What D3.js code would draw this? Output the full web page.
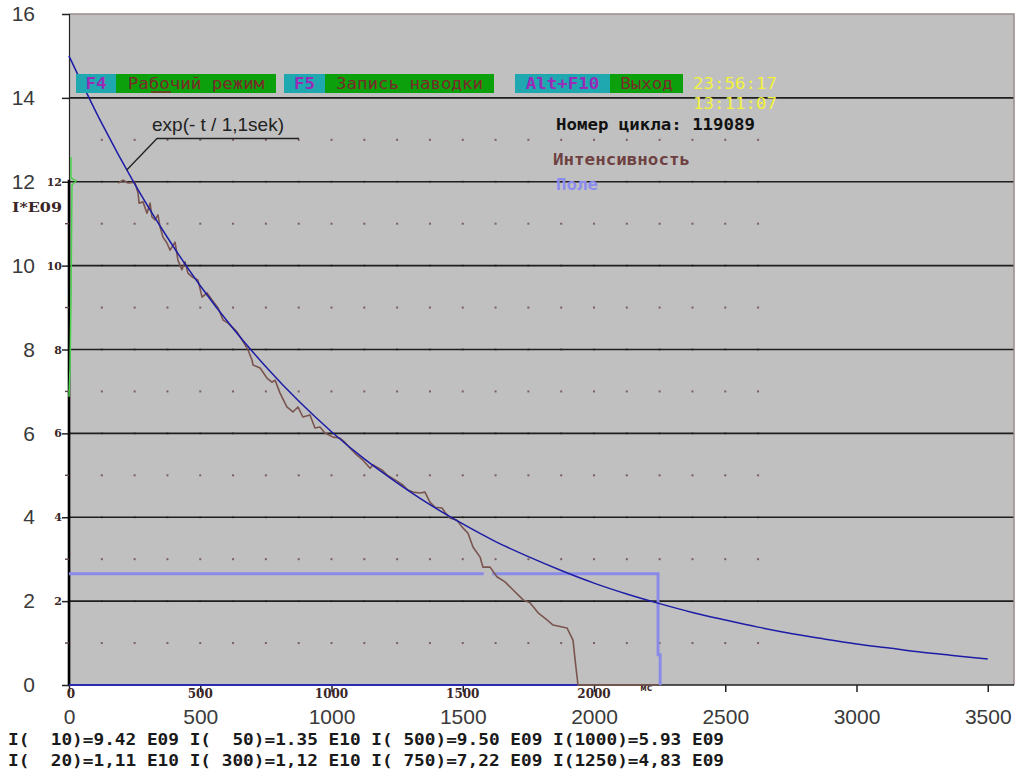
<!DOCTYPE html>
<html>
<head>
<meta charset="utf-8">
<script src="https://cdn.jsdelivr.net/npm/d3@7"></script>
<style>
body{margin:0;background:#fff}
svg{display:block}
</style>
</head>
<body>
<svg id="chart" width="1017" height="769"></svg>
<script>

var xTicks = [0,500,1000,1500,2000,2500,3000,3500];
var yTicks = [0,2,4,6,8,10,12,14,16];
var innerXTicks = [0,500,1000,1500,2000];
var innerYTicks = [2,4,6,8,10,12];
var gridValues = [2,4,6,8,10,12,14];

// exp(-t/1,1sek) fit
var fitT = [0,125,250,375,500,625,750,875,1000,1125,1250,1375,1500,1625,1750,1875,2000,2125,2250,2375,2500,2625,2750,2875,3000,3125,3250,3375,3500];
var fitI = [15.00,13.39,11.95,10.67,9.52,8.50,7.59,6.77,6.04,5.39,4.82,4.30,3.84,3.42,3.06,2.73,2.43,2.17,1.94,1.73,1.55,1.38,1.23,1.10,0.98,0.88,0.78,0.70,0.62];

// Интенсивность (brown)
var intT = [187,206,225,251,263,267,282,297,309,316,328,339,347,358,373,385,404,415,430,442,453,469,491,507,526,545,568,587,606,621,640,659,682,697,701,728,754,773,785,804,830,853,872,891,918,937,956,975,1006,1032,1051,1070,1097,1120,1147,1158,1192,1211,1242,1272,1291,1310,1337,1356,1375,1394,1421,1432,1451,1478,1497,1520,1539,1566,1577,1604,1630,1661,1691,1730,1756,1787,1821,1844,1897,1920,1928,1939,2244];
var intI = [11.97,12.04,11.97,11.99,11.73,11.49,11.52,11.25,11.49,11.16,11.09,11.21,10.92,10.68,10.54,10.37,10.56,10.13,9.90,10.09,9.82,9.73,9.66,9.25,9.35,9.18,8.99,8.70,8.63,8.54,8.42,8.23,7.99,7.75,7.63,7.56,7.32,7.22,7.27,6.96,6.63,6.51,6.63,6.39,6.44,6.13,6.15,6.01,5.91,5.89,5.79,5.65,5.48,5.36,5.17,5.25,5.13,5.01,4.89,4.77,4.65,4.60,4.58,4.60,4.36,4.24,4.22,4.12,3.98,3.93,3.77,3.62,3.29,3.05,2.81,2.81,2.58,2.46,2.27,2.03,1.96,1.72,1.55,1.43,1.36,1.07,0.60,0.00,0.00];

// Поле (light blue), two pieces
var fieldT1 = [0,1580];
var fieldI1 = [2.65,2.65];
var fieldT2 = [1612,2244,2244,2252,2252];
var fieldI2 = [2.65,2.65,0.72,0.72,0];

// green trace at the left edge
var greenT = [7.6,7.6,26.7,11.4,7.6,3.8,0];
var greenI = [12.59,12.09,12.02,11.92,9.18,7.56,6.87];

// dark blue base line
var baseT = [0,1939];
var baseI = [0,0];

var menuKeys = ["F4","F5","Alt+F10"];
var menuLabels = ["Рабочий режим","Запись наводки","Выход"];
var clockLines = ["23:56:17","13:11:07"];
var bottomLines = [
  "I(  10)=9.42 E09 I(  50)=1.35 E10 I( 500)=9.50 E09 I(1000)=5.93 E09",
  "I(  20)=1,11 E10 I( 300)=1,12 E10 I( 750)=7,22 E09 I(1250)=4,83 E09"
];

var svg = d3.select('#chart');
var x = d3.scaleLinear().domain([0,3600]).range([69,1014]);
var y = d3.scaleLinear().domain([0,16]).range([685,14]);
var dos = "'DejaVu Sans Mono', 'Liberation Mono', monospace";

function zip(a,b){ return a.map(function(d,i){ return [d,b[i]]; }); }
var line = d3.line().x(function(d){ return x(d[0]); }).y(function(d){ return y(d[1]); });

svg.append('rect').attr('width',1017).attr('height',769).attr('fill','#fff');

// plot area
svg.append('rect')
  .attr('x',x(0)).attr('y',y(16))
  .attr('width',x(3600)-x(0)).attr('height',y(0)-y(16))
  .attr('fill','#c0c0c0');

// dotted grid of the screen
var dots = [];
for(var k=1;k<=21;k++){
  for(var v=1;v<=13;v++){ dots.push([k*125,v]); }
}
svg.append('g').selectAll('rect').data(dots).enter().append('rect')
  .attr('x',function(d){ return x(d[0])-1; })
  .attr('y',function(d){ return y(d[1])-1; })
  .attr('width',2).attr('height',2)
  .attr('fill','#7a6060');

// gridlines
svg.append('g').selectAll('line').data(gridValues).enter().append('line')
  .attr('x1',x(0)).attr('x2',x(3600))
  .attr('y1',function(d){ return y(d); }).attr('y2',function(d){ return y(d); })
  .attr('stroke','#1e1e1e').attr('stroke-width',1.6);

// frame top / right
svg.append('path')
  .attr('d','M'+x(0)+','+y(16)+'H'+x(3600)+'V'+y(0))
  .attr('fill','none').attr('stroke','#9a8a8a').attr('stroke-width',1.5);

// outer axes (Excel)
var yAxis = d3.axisLeft(y).tickValues(yTicks).tickSize(7).tickPadding(27).tickFormat(d3.format('d'));
var gy = svg.append('g').attr('transform','translate('+x(0)+',0)').call(yAxis);
gy.select('.domain').attr('stroke','#222').attr('stroke-width',1.2);
gy.selectAll('.tick line').attr('stroke','#222').attr('stroke-width',1.5);
gy.selectAll('.tick text').attr('font-family','Arial, "Liberation Sans", sans-serif')
  .attr('font-size',21).attr('fill','#3a3a3a');

var xAxis = d3.axisBottom(x).tickValues(xTicks).tickSize(7).tickPadding(17).tickFormat(d3.format('d'));
var gx = svg.append('g').attr('transform','translate(0,'+y(0)+')').call(xAxis);
gx.select('.domain').remove();
gx.selectAll('.tick line').attr('stroke','#222').attr('stroke-width',1.5);
gx.selectAll('.tick text').attr('font-family','Arial, "Liberation Sans", sans-serif')
  .attr('font-size',21).attr('fill','#3a3a3a');

// bottom line of plot
svg.append('line').attr('x1',x(0)).attr('x2',x(3600)).attr('y1',y(0)).attr('y2',y(0))
  .attr('stroke','#222').attr('stroke-width',1.6);

// inner screen axis
svg.append('line').attr('x1',x(0)).attr('x2',x(0)).attr('y1',y(12.05)).attr('y2',y(0))
  .attr('stroke','#000').attr('stroke-width',2.6);
svg.append('g').selectAll('line').data([1,3,5,7,9,11]).enter().append('line')
  .attr('x1',x(0)-4).attr('x2',x(0))
  .attr('y1',function(d){ return y(d); }).attr('y2',function(d){ return y(d); })
  .attr('stroke','#5a4040').attr('stroke-width',1.4);

svg.append('g').selectAll('text').data(innerYTicks).enter().append('text')
  .attr('x',x(0)-7).attr('y',function(d){ return y(d)+4; })
  .attr('text-anchor','end')
  .attr('font-family','"DejaVu Serif", serif').attr('font-weight','bold')
  .attr('font-size',11).attr('fill','#3a2626')
  .text(function(d){ return d; });

svg.append('g').selectAll('text').data(innerXTicks).enter().append('text')
  .attr('x',function(d){ return x(d)+(d===0?2:0); }).attr('y',y(0)+13)
  .attr('text-anchor','middle')
  .attr('font-family','"DejaVu Serif", serif').attr('font-weight','bold')
  .attr('font-size',12).attr('fill','#3a2626')
  .text(function(d){ return d; });

svg.append('text').attr('x',x(2200)).attr('y',y(0)+6)
  .attr('text-anchor','middle').attr('font-family',dos).attr('font-weight','bold')
  .attr('font-size',10).attr('fill','#3a2626').text('мс');

svg.append('text').attr('x',12).attr('y',y(11.4)+5)
  .attr('font-family','"DejaVu Serif", serif').attr('font-weight','bold')
  .attr('font-size',13).attr('fill','#3a2626')
  .attr('textLength',50).attr('lengthAdjust','spacingAndGlyphs')
  .text('I*E09');

// series
svg.append('path').datum(zip(fieldT1,fieldI1)).attr('d',line)
  .attr('fill','none').attr('stroke','#8a8ae8').attr('stroke-width',3);
svg.append('path').datum(zip(fieldT2,fieldI2)).attr('d',line)
  .attr('fill','none').attr('stroke','#8a8ae8').attr('stroke-width',3);

svg.append('path').datum(zip(baseT,baseI)).attr('d',line)
  .attr('fill','none').attr('stroke','#2a2ab0').attr('stroke-width',2);

svg.append('path').datum(zip(intT,intI)).attr('d',line)
  .attr('fill','none').attr('stroke','#7a5550').attr('stroke-width',1.6)
  .attr('stroke-linejoin','round');

svg.append('path').datum(zip(fitT,fitI)).attr('d',line.curve(d3.curveMonotoneX))
  .attr('fill','none').attr('stroke','#1c1ca6').attr('stroke-width',1.5);
line.curve(d3.curveLinear);

svg.append('path').datum(zip(greenT,greenI)).attr('d',line)
  .attr('fill','none').attr('stroke','#4cd24c').attr('stroke-width',1.5);

// menu bar of the screen
var menuBoxes = [
  {k:[76,116], l:[116,276]},
  {k:[284,325], l:[325,494]},
  {k:[515,610], l:[610,683]}
];
var menu = svg.append('g');
menuBoxes.forEach(function(b,i){
  menu.append('rect').attr('x',b.k[0]).attr('y',74).attr('width',b.k[1]-b.k[0]).attr('height',19)
    .attr('fill','#1fa8b0');
  menu.append('rect').attr('x',b.l[0]).attr('y',74).attr('width',b.l[1]-b.l[0]).attr('height',19)
    .attr('fill','#0ca00c');
  var kw = menuKeys[i].length*10.5;
  menu.append('text').attr('x',(b.k[0]+b.k[1])/2).attr('y',89).attr('text-anchor','middle')
    .attr('font-family',dos).attr('font-weight','bold').attr('font-size',15)
    .attr('textLength',kw).attr('lengthAdjust','spacingAndGlyphs')
    .attr('fill','#9a2ab8').text(menuKeys[i]);
  var lw = menuLabels[i].length*10.5;
  menu.append('text').attr('x',(b.l[0]+b.l[1])/2).attr('y',89).attr('text-anchor','middle')
    .attr('font-family',dos).attr('font-size',15)
    .attr('textLength',lw).attr('lengthAdjust','spacingAndGlyphs')
    .attr('fill','#7a2a2a').text(menuLabels[i]);
});
// hotkey underline under "бу"
menu.append('line').attr('x1',151).attr('x2',171).attr('y1',92).attr('y2',92)
  .attr('stroke','#7a2a2a').attr('stroke-width',1.5);

svg.append('g').selectAll('text').data(clockLines).enter().append('text')
  .attr('x',693).attr('y',function(d,i){ return 89+i*20; })
  .attr('font-family',dos).attr('font-size',15).attr('fill','#f2f23c')
  .attr('textLength',84).attr('lengthAdjust','spacingAndGlyphs')
  .text(function(d){ return d; });

svg.append('text').attr('x',556).attr('y',130)
  .attr('font-family',dos).attr('font-weight','bold').attr('font-size',15).attr('fill','#111')
  .attr('textLength',199).attr('lengthAdjust','spacingAndGlyphs')
  .text('Номер цикла: 119089');

svg.append('text').attr('x',553).attr('y',165)
  .attr('font-family',dos).attr('font-weight','bold').attr('font-size',15).attr('fill','#6e4040')
  .attr('textLength',137).attr('lengthAdjust','spacingAndGlyphs')
  .text('Интенсивность');

svg.append('text').attr('x',556).attr('y',190)
  .attr('font-family',dos).attr('font-weight','bold').attr('font-size',15).attr('fill','#8c8cf0')
  .attr('textLength',42).attr('lengthAdjust','spacingAndGlyphs')
  .text('Поле');

// annotation for the fit
svg.append('text').attr('x',152).attr('y',131)
  .attr('font-family','Arial, "Liberation Sans", sans-serif').attr('font-size',19).attr('fill','#222')
  .text('exp(- t / 1,1sek)');
svg.append('path')
  .attr('d','M'+x(220)+','+y(12.28)+'L157,138.5H299')
  .attr('fill','none').attr('stroke','#222').attr('stroke-width',1.3);

// bottom readout
svg.append('g').selectAll('text').data(bottomLines).enter().append('text')
  .attr('x',8).attr('y',function(d,i){ return 745+i*21; })
  .attr('font-family',dos).attr('font-weight','bold').attr('font-size',15).attr('fill','#1a1a1a')
  .attr('textLength',716).attr('lengthAdjust','spacingAndGlyphs')
  .attr('xml:space','preserve').style('white-space','pre')
  .text(function(d){ return d; });

</script>
</body>
</html>
